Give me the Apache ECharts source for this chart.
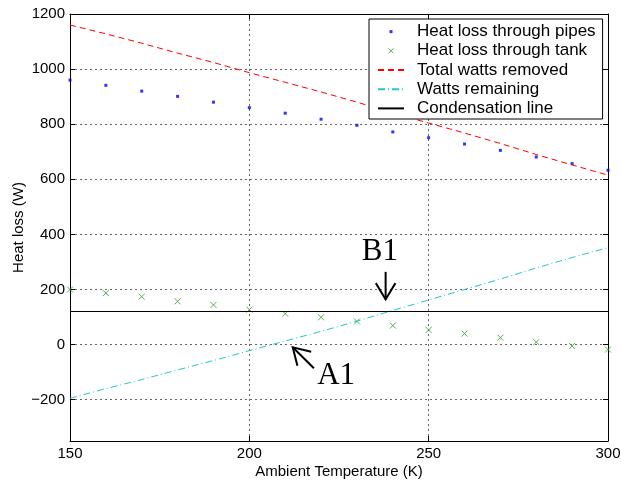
<!DOCTYPE html>
<html><head><meta charset="utf-8">
<script src="https://cdn.jsdelivr.net/npm/echarts@6/dist/echarts.min.js"></script>
<style>html,body{margin:0;padding:0;background:#fff}#c{width:621px;height:484px}</style>
</head><body><div id="c"></div>
<script>
// ---- data ----
const temps = [150,160,170,180,190,200,210,220,230,240,250,260,270,280,290,300];
const pipes = [960,941,920,901,880,860,840,818,796,772,751,728,705,681,657,633];
const tank = [200,187,174,157,144,127,112,99,84,69,53,40,25,9,-5,-18];
const totalRemoved = [1160,1128,1094,1058,1024,987,952,917,880,841,804,768,730,690,652,615];
const wattsRemaining = [-195,-160,-127,-92,-58,-22,13,48,85,124,162,200,238,278,316,352];
const condensationLevel = 120;
const xTicks = [150,200,250,300];
const yTicks = [-200,0,200,400,600,800,1000,1200];
const yRange = [-350,1200];
const seriesNames = ['Heat loss through pipes','Heat loss through tank','Total watts removed','Watts remaining','Condensation line'];
// annotation anchor points in data coordinates
const annotationLabels = ['B1','A1'];
const annotationTextAt = [[236.4,338],[224.2,-113]];
const annotationTail = [[238,264],[218,-86]];
const annotationTip = [[238,164],[212.1,-10]];

const green = '#2a9d2a';
const font = 'Liberation Sans';
const chart = echarts.init(document.getElementById('c'), null, {renderer:'canvas'});

const zip = (xs, ys) => xs.map((x,i)=>[x, ys[i]]);
const fmt = v => (v < 0 ? '\u2212' + Math.abs(v) : String(v));

const axisLineStyle = {show:true, onZero:false, lineStyle:{color:'#000', width:1}};
const tickStyle = {show:true, inside:true, length:5, lineStyle:{color:'#000'}};

const option = {
  animation:false,
  backgroundColor:'#fff',
  textStyle:{fontFamily:font},
  grid:{left:70, right:13, top:14, bottom:43, outerBoundsMode:'none', containLabel:false},
  legend:{
    orient:'vertical', left:369, top:19, padding:[3,7,1,8],
    backgroundColor:'#fff', borderColor:'#000', borderWidth:1,
    itemWidth:26, itemHeight:14, itemGap:0, selectedMode:false,
    textStyle:{fontSize:17, color:'#000', lineHeight:19.2, padding:[0,0,0,8], fontFamily:font},
    data:[
      {name:seriesNames[0], icon:'path://M0 0M14 14M5.5 5.5H8.5V8.5H5.5Z', itemStyle:{color:'#0000ff'}},
      {name:seriesNames[1], icon:'path://M0 0M14 14M4.5 4.5L9.5 9.5M9.5 4.5L4.5 9.5', itemStyle:{color:'none', borderColor:green, borderWidth:1}},
      {name:seriesNames[2], itemStyle:{opacity:0}},
      {name:seriesNames[3], itemStyle:{opacity:0}},
      {name:seriesNames[4], itemStyle:{opacity:0}}
    ]
  },
  xAxis:[
    {type:'value', min:xTicks[0], max:xTicks[xTicks.length-1], interval:50, position:'bottom',
      axisLine:axisLineStyle, axisTick:tickStyle,
      axisLabel:{fontSize:15, color:'#000', margin:5, fontFamily:font, formatter:fmt},
      splitLine:{show:true, lineStyle:{color:'#666', type:[2,3], width:1}},
      name:'Ambient Temperature (K)', nameLocation:'middle', nameGap:23, nameMoveOverlap:false,
      nameTextStyle:{fontSize:15, color:'#000', fontFamily:font}},
    {type:'value', min:xTicks[0], max:xTicks[xTicks.length-1], interval:50, position:'top',
      axisLine:axisLineStyle, axisTick:tickStyle, axisLabel:{show:false}, splitLine:{show:false}}
  ],
  yAxis:[
    {type:'value', min:yRange[0], max:yRange[1], position:'left',
      axisLine:axisLineStyle,
      axisTick:{show:true, inside:true, length:5, lineStyle:{color:'#000'}, customValues:yTicks},
      axisLabel:{fontSize:15, color:'#000', margin:5, fontFamily:font, customValues:yTicks, formatter:fmt},
      splitLine:{show:true, lineStyle:{color:'#666', type:[2,3], width:1}},
      name:'Heat loss (W)', nameLocation:'middle', nameGap:44, nameRotate:90, nameMoveOverlap:false,
      nameTextStyle:{fontSize:15, color:'#000', fontFamily:font}},
    {type:'value', min:yRange[0], max:yRange[1], position:'right',
      axisLine:axisLineStyle,
      axisTick:{show:true, inside:true, length:5, lineStyle:{color:'#000'}, customValues:yTicks},
      axisLabel:{show:false, customValues:yTicks}, splitLine:{show:false}}
  ],
  series:[
    {name:seriesNames[0], type:'scatter', data:zip(temps,pipes), symbol:'rect', symbolSize:3,
      itemStyle:{color:'#0000ff'}, z:2},
    {name:seriesNames[1], type:'scatter', data:zip(temps,tank), symbol:'path://M0 0L10 10M10 0L0 10', symbolSize:6,
      itemStyle:{color:'none', borderColor:green, borderWidth:1}, z:2},
    {name:seriesNames[2], type:'line', data:zip(temps,totalRemoved), symbol:'none', showSymbol:false,
      lineStyle:{color:'#ff0000', width:1, type:[6,4]}, itemStyle:{color:'#ff0000'}, z:3},
    {name:seriesNames[3], type:'line', data:zip(temps,wattsRemaining), symbol:'none', showSymbol:false,
      lineStyle:{color:'#22c8c8', width:1, type:[7,3,1,3]}, itemStyle:{color:'#22c8c8'}, z:3},
    {name:seriesNames[4], type:'line', data:[[xTicks[0],condensationLevel],[xTicks[xTicks.length-1],condensationLevel]],
      symbol:'none', showSymbol:false, lineStyle:{color:'#000', width:1.2, type:'solid'}, itemStyle:{color:'#000'}, z:3}
  ]
};
chart.setOption(option);

// annotations placed through the chart's own coordinate system
const graphics = [];
annotationLabels.forEach((lab,i)=>{
  const t = chart.convertToPixel({gridIndex:0}, annotationTextAt[i]);
  const a = chart.convertToPixel({gridIndex:0}, annotationTail[i]);
  const b = chart.convertToPixel({gridIndex:0}, annotationTip[i]);
  const ang = Math.atan2(a[1]-b[1], a[0]-b[0]);
  const L = 19, h = 31*Math.PI/180;
  const p1 = [b[0]+L*Math.cos(ang+h), b[1]+L*Math.sin(ang+h)];
  const p2 = [b[0]+L*Math.cos(ang-h), b[1]+L*Math.sin(ang-h)];
  graphics.push({type:'line', shape:{x1:a[0],y1:a[1],x2:b[0],y2:b[1]}, style:{stroke:'#000', lineWidth:2}, z:10});
  graphics.push({type:'polyline', shape:{points:[p1,b,p2]}, style:{stroke:'#000', lineWidth:2, fill:null}, z:10});
  graphics.push({type:'text', x:t[0], y:t[1], style:{text:lab, fontFamily:'Liberation Serif', fontSize:31, fill:'#000', align:'center', verticalAlign:'middle'}, z:10});
});
chart.setOption({graphic:graphics});
</script></body></html>
